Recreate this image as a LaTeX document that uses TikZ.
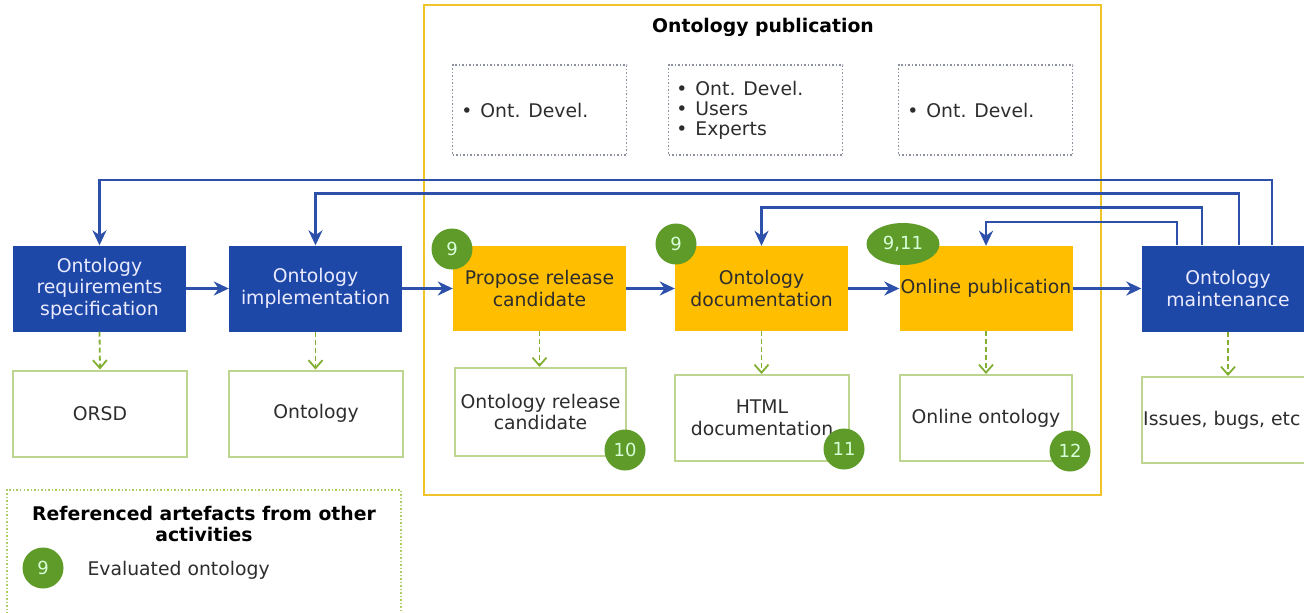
\documentclass[tikz,border=0pt]{standalone}
\usepackage{fontspec}
\setmainfont{DejaVu Sans}
\usetikzlibrary{arrows.meta,calc,shapes.geometric}
\definecolor{eublue}{RGB}{30,72,168}
\definecolor{arrowblue}{RGB}{45,80,170}
\definecolor{euyellow}{RGB}{255,190,0}
\definecolor{contyellow}{RGB}{240,195,40}
\definecolor{circgreen}{RGB}{95,155,40}
\definecolor{artgreen}{RGB}{190,212,145}
\definecolor{dashgreen}{RGB}{130,175,50}
\definecolor{leggreen}{RGB}{175,205,100}
\definecolor{dotgray}{RGB}{140,145,160}
\definecolor{txtdark}{RGB}{45,45,45}
\begin{document}
\begin{tikzpicture}[x=1pt,y=-1pt,
  font=\fontsize{18.8}{21.5}\selectfont,
  actbox/.style={rectangle, fill=eublue, text=white!92!blue, minimum width=173pt, minimum height=86pt, align=center, inner sep=0pt},
  pubbox/.style={rectangle, fill=euyellow, text=txtdark, minimum width=173pt, minimum height=85pt, align=center, inner sep=0pt},
  artbox/.style={rectangle, draw=artgreen, line width=2pt, fill=white, minimum width=172pt, minimum height=86pt, align=center, text=txtdark, inner sep=0pt},
  refcirc/.style={circle, fill=circgreen, text=white!85!green, minimum size=41pt, inner sep=0pt, font=\fontsize{18}{20}\selectfont},
  flow/.style={draw=arrowblue, line width=2.6pt, -{Stealth[length=15pt,width=14pt]}},
  outarr/.style={draw=dashgreen, line width=1.8pt, dash pattern=on 5pt off 3pt, -{Straight Barb[length=8pt,width=14pt]}},
  rolebox/.style={rectangle, draw=dotgray, line width=1.4pt, dash pattern=on 1.5pt off 2pt, minimum width=174pt, minimum height=90pt, inner sep=0pt},
  roletext/.style={anchor=west, align=left, text=txtdark, font=\fontsize{18.8}{20}\selectfont}
]
\clip (0,0) rectangle (1304,613);
\fill[white] (0,0) rectangle (1304,613);

% container
\node (pubarea) [rectangle, draw=contyellow, line width=2.5pt, minimum width=677pt, minimum height=490pt, inner sep=0pt] at (762.5,250) {};
\node (pubtitle) at (763,27) {\bfseries Ontology publication};

% role boxes
\node (r1) [rolebox] at (539.5,110) {};
\node (r2) [rolebox] at (755.5,110) {};
\node (r3) [rolebox] at (985.5,110) {};
\node (r1t) [roletext] at ([xshift=6pt]r1.west) {•\hspace{8pt}Ont. Devel.};
\node (r2t) [roletext] at ([xshift=5pt]r2.west) {•\hspace{8pt}Ont. Devel.\\•\hspace{8pt}Users\\•\hspace{8pt}Experts};
\node (r3t) [roletext] at ([xshift=6pt]r3.west) {•\hspace{8pt}Ont. Devel.};

% activities
\node (ors)  [actbox] at (99.5,288.5) {Ontology\\requirements\\specification};
\node (impl) [actbox] at (315.5,288.5) {Ontology\\implementation};
\node (prop) [pubbox] at (539.5,288.5) {Propose release\\candidate};
\node (doc)  [pubbox] at (761.5,288.5) {Ontology\\documentation};
\node (onl)  [pubbox] at (986,288.5) {Online publication};
\node (mnt)  [actbox] at (1228,288.5) {Ontology\\maintenance};

% artefacts
\node (orsd)   [artbox, minimum width=174pt] at (100,413.5) {ORSD};
\node (ontart) [artbox, minimum width=174pt] at (316,413.5) {Ontology};
\node (rc)     [artbox, minimum width=171pt, minimum height=88pt] at (540.5,412) {Ontology release\\candidate};
\node (html)   [artbox, minimum width=174pt] at (762,418) {HTML\\documentation};
\node (onlart) [artbox] at (986,418) {Online ontology};
\node (iss)    [artbox] at (1228,420) {};
\node (isst)   [anchor=west, text=txtdark, inner sep=0pt] at ([xshift=2pt]iss.west) {Issues, bugs, etc};

% flow arrows
\draw[flow] (ors.east) -- (impl.west);
\draw[flow] (impl.east) -- (prop.west);
\draw[flow] (prop.east) -- (doc.west);
\draw[flow] (doc.east) -- (onl.west);
\draw[flow] (onl.east) -- (mnt.west);

% feedback arrows
\coordinate (h1) at (1272,180);
\coordinate (h2) at (1239,193.5);
\coordinate (h3) at (1202,207.5);
\coordinate (h4) at (1177,222);
\draw[flow] (h1 |- mnt.north) -- (h1) -| (ors.north);
\draw[flow] (h2 |- mnt.north) -- (h2) -| (impl.north);
\draw[flow] (h3 |- mnt.north) -- (h3) -| (doc.north);
\draw[flow] (h4 |- mnt.north) -- (h4) -| (onl.north);

% output arrows
\draw[outarr] (ors.south) -- (orsd.north);
\draw[outarr] (impl.south) -- (impl.south |- ontart.north);
\draw[outarr] (prop.south) -- (prop.south |- rc.north);
\draw[outarr] (doc.south) -- (doc.south |- html.north);
\draw[outarr] (onl.south) -- (onlart.north);
\draw[outarr] (mnt.south) -- (iss.north);

% referenced artefact circles
\node (c9a) [refcirc] at (452,249) {9};
\node (c9b) [refcirc] at (676,244) {9};
\node (c911) [refcirc, ellipse, minimum width=73pt, minimum height=42pt] at (903,244) {9,11};
\node (c10) [refcirc] at (625,450) {10};
\node (c11) [refcirc] at (844,449) {11};
\node (c12) [refcirc] at (1070,451) {12};

% legend
\node (leg) [rectangle, draw=leggreen, line width=1.6pt, dash pattern=on 1.5pt off 2pt, minimum width=394pt, minimum height=140pt, inner sep=0pt] at (204,560) {};
\node (legtitle) [align=center] at (204,524) {\bfseries Referenced artefacts from other\\\bfseries activities};
\node (lc9) [refcirc] at (43,568) {9};
\node (legtxt) [anchor=west, text=txtdark] at (84,570) {Evaluated ontology};
\end{tikzpicture}
\end{document}
